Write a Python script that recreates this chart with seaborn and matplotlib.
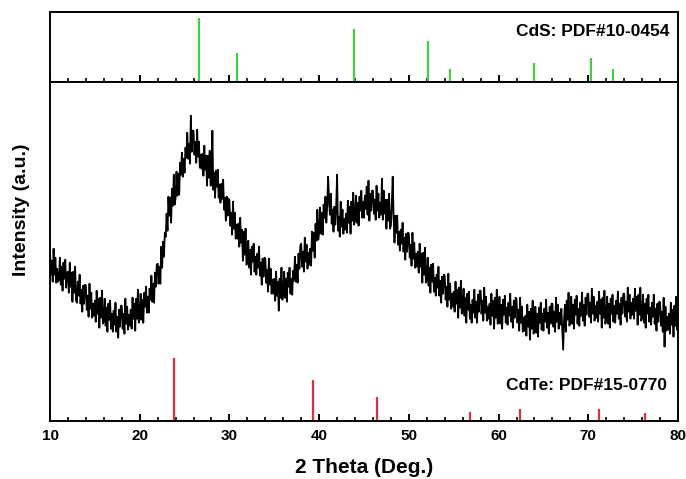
import numpy as np
import matplotlib
matplotlib.use("Agg")
import matplotlib.pyplot as plt
import seaborn as sns

# Reference patterns (2-theta in degrees, relative intensity)
cds_pos = [26.6, 30.8, 43.9, 52.1, 54.6, 64.0, 70.3, 72.8]
cds_int = [100, 45, 82, 64, 20, 29, 37, 20]
cdte_pos = [23.8, 39.3, 46.4, 56.8, 62.4, 71.2, 76.3]
cdte_int = [100, 65, 37, 14, 19, 19, 13]

# Measured scan, 0.1 deg steps from 10 to 80 deg (counts, arbitrary units)
scan_theta = np.round(np.arange(10.0, 80.001, 0.1), 1)
scan_counts = [
    170, 146, 160, 139, 172, 146, 163, 138, 152, 139,   # 10
    141, 163, 136, 154, 130, 158, 142, 161, 133, 148,   # 11
    149, 128, 158, 134, 148, 119, 149, 128, 154, 120,   # 12
    118, 139, 125, 146, 117, 131, 109, 135, 117, 136,   # 13
    135, 111, 125, 104, 137, 112, 128, 103, 117, 105,   # 14
    120, 99, 130, 107, 122, 93, 123, 103, 130, 97,      # 15
    100, 122, 95, 113, 89, 117, 101, 120, 92, 107,      # 16
    89, 110, 96, 118, 89, 104, 83, 111, 94, 115,        # 17
    115, 92, 107, 87, 122, 97, 114, 91, 106, 95,        # 18
    111, 92, 123, 102, 117, 90, 122, 102, 131, 98,      # 19
    103, 127, 101, 121, 98, 128, 114, 134, 108, 124,    # 20
    108, 132, 121, 145, 119, 137, 118, 148, 134, 156,   # 21
    157, 137, 154, 137, 174, 153, 179, 164, 188, 184,   # 22
    207, 190, 224, 205, 223, 198, 232, 215, 246, 216,   # 23
    223, 249, 225, 247, 226, 258, 246, 268, 244, 262,   # 24
    248, 273, 263, 288, 262, 277, 257, 305, 269, 290,   # 25
    290, 266, 279, 258, 291, 264, 279, 253, 266, 252,   # 26
    267, 245, 275, 251, 265, 235, 265, 243, 270, 235,   # 27
    238, 290, 231, 248, 223, 250, 234, 251, 223, 236,   # 28
    218, 237, 222, 241, 211, 223, 200, 224, 205, 222,   # 29
    220, 195, 208, 186, 219, 192, 208, 182, 196, 182,   # 30
    197, 174, 203, 178, 191, 160, 189, 166, 192, 156,   # 31
    158, 180, 153, 171, 146, 174, 159, 177, 149, 164,   # 32
    146, 167, 153, 174, 145, 158, 136, 162, 144, 163,   # 33
    162, 138, 151, 129, 162, 136, 152, 127, 141, 127,   # 34
    142, 120, 149, 125, 139, 110, 142, 123, 153, 121,   # 35
    126, 149, 123, 142, 119, 148, 134, 153, 127, 142,   # 36
    126, 150, 140, 164, 139, 156, 138, 167, 152, 175,   # 37
    177, 154, 169, 149, 183, 159, 176, 152, 168, 156,   # 38
    172, 155, 189, 170, 188, 163, 197, 180, 211, 181,   # 39
    188, 213, 187, 208, 186, 216, 203, 224, 198, 215,   # 40
    244, 221, 206, 227, 197, 211, 189, 214, 196, 214,   # 41
    246, 190, 204, 184, 219, 194, 211, 187, 202, 191,   # 42
    207, 188, 220, 198, 214, 187, 219, 200, 228, 196,   # 43
    201, 225, 198, 218, 195, 224, 210, 230, 203, 219,   # 44
    203, 225, 212, 234, 206, 240, 200, 227, 210, 230,   # 45
    230, 207, 221, 201, 235, 210, 227, 203, 218, 206,   # 46
    242, 201, 230, 207, 221, 192, 221, 200, 227, 192,   # 47
    195, 216, 244, 204, 178, 205, 188, 205, 176, 189,   # 48
    170, 191, 177, 198, 169, 183, 161, 187, 169, 188,   # 49
    187, 163, 176, 155, 188, 162, 178, 153, 167, 154,   # 50
    169, 148, 177, 154, 167, 138, 168, 146, 173, 138,   # 51
    141, 163, 135, 153, 128, 156, 139, 157, 129, 143,   # 52
    125, 146, 133, 154, 125, 140, 118, 144, 127, 146,   # 53
    145, 121, 134, 114, 147, 121, 137, 112, 127, 114,   # 54
    129, 109, 139, 117, 131, 103, 133, 113, 140, 107,   # 55
    110, 132, 105, 123, 98, 127, 111, 129, 102, 116,    # 56
    98, 121, 108, 131, 103, 119, 98, 126, 109, 130,     # 57
    130, 107, 120, 100, 133, 108, 124, 100, 114, 102,   # 58
    117, 96, 127, 105, 120, 92, 123, 103, 131, 97,      # 59
    101, 124, 97, 116, 92, 121, 106, 125, 98, 113,      # 60
    96, 118, 105, 127, 99, 114, 93, 120, 103, 123,      # 61
    122, 98, 111, 90, 123, 98, 114, 89, 103, 90,        # 62
    105, 85, 116, 94, 109, 81, 112, 92, 120, 87,        # 63
    91, 114, 88, 107, 84, 113, 98, 118, 91, 107,        # 64
    90, 112, 99, 121, 93, 108, 87, 114, 97, 117,        # 65
    117, 94, 109, 89, 123, 99, 116, 92, 108, 96,        # 66
    112, 92, 71, 101, 116, 89, 120, 101, 128, 95,       # 67
    101, 124, 97, 116, 92, 121, 106, 125, 97, 112,      # 68
    95, 118, 105, 128, 100, 116, 95, 123, 106, 127,     # 69
    127, 104, 118, 98, 132, 107, 124, 100, 115, 103,    # 70
    119, 99, 129, 107, 121, 93, 123, 103, 130, 97,      # 71
    101, 124, 97, 117, 93, 122, 107, 126, 99, 115,      # 72
    98, 120, 107, 129, 102, 117, 96, 123, 107, 127,     # 73
    127, 104, 119, 99, 133, 109, 126, 102, 118, 106,    # 74
    122, 102, 132, 110, 124, 96, 126, 106, 133, 100,    # 75
    103, 126, 98, 117, 93, 122, 107, 126, 99, 113,      # 76
    96, 118, 104, 126, 97, 112, 90, 117, 99, 119,       # 77
    118, 95, 109, 89, 123, 74, 114, 90, 104, 91,        # 78
    107, 87, 118, 96, 111, 84, 115, 95, 124, 91,        # 79
    103,
]

sns.set_theme(style="ticks")
plt.rcParams["font.family"] = ["Liberation Sans", "DejaVu Sans"]
plt.rcParams["font.weight"] = "bold"
plt.rcParams["text.color"] = "black"

fig = plt.figure(figsize=(6.86, 4.79), dpi=100)
W, H = 686, 479
x0, x1 = 50, 678
ax_top = fig.add_axes([x0 / W, 1 - 81.7 / H, (x1 - x0) / W, (81.7 - 12) / H])
ax = fig.add_axes([x0 / W, 1 - 420.7 / H, (x1 - x0) / W, (420.7 - 81.7) / H])

green = "#44cc44"
red = "#d8323c"

# Top panel: CdS standard pattern
ax_top.vlines(cds_pos, 0, cds_int, color=green, lw=1.6)
ax_top.set_xlim(10, 80)
ax_top.set_ylim(0, 109.4)
ax_top.text(0.987, 0.72, "CdS: PDF#10-0454", transform=ax_top.transAxes,
            ha="right", va="center", fontsize=12.5, fontweight="bold",
            color="black")

# Bottom panel: measured scan and CdTe standard pattern
sns.lineplot(x=scan_theta, y=scan_counts, ax=ax, color="black", lw=1.3,
             sort=False, estimator=None)
ax.vlines(cdte_pos, 0, np.array(cdte_int) * 0.63, color=red, lw=1.6)
ax.set_xlim(10, 80)
ax.set_ylim(0, 339)
ax.text(0.983, 0.105, "CdTe: PDF#15-0770", transform=ax.transAxes,
        ha="right", va="center", fontsize=12.5, fontweight="bold",
        color="black")

for a in (ax_top, ax):
    for s in a.spines.values():
        s.set_visible(True)
        s.set_linewidth(1.4)
        s.set_color("black")
    a.set_xticks(range(10, 81, 10))
    a.set_xticks(range(10, 81, 2), minor=True)
    a.tick_params(axis="x", which="major", direction="in", length=5, width=1.4,
                  colors="black", labelcolor="black", pad=6, labelsize=11)
    a.tick_params(axis="x", which="minor", direction="in", length=3, width=1.2,
                  colors="black")
    a.set_yticks([])

ax_top.tick_params(axis="x", labelbottom=False)
for lab in ax.get_xticklabels():
    lab.set_fontweight("bold")

ax.set_xlabel("2 Theta (Deg.)", fontsize=15, fontweight="bold", labelpad=11,
              color="black")
fig.text(22 / W, 1 - 210 / H, "Intensity (a.u.)", rotation=90, ha="center",
         va="center", fontsize=14, fontweight="bold", color="black")

fig.savefig("out.png", dpi=100)
